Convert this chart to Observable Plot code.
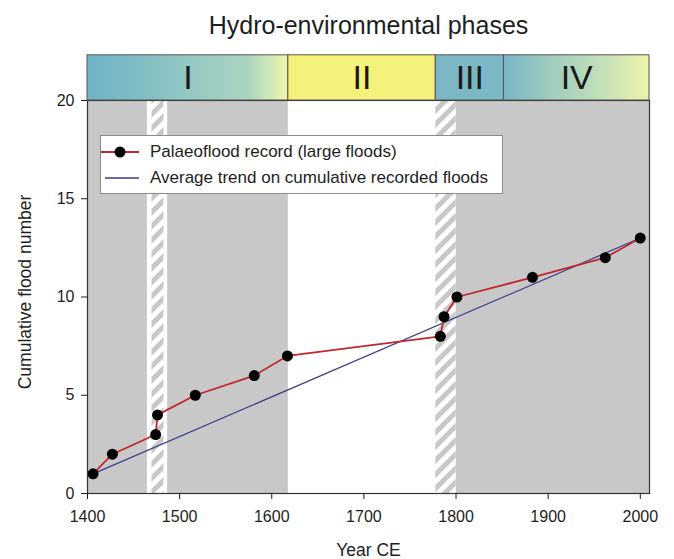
<!DOCTYPE html>
<html><head><meta charset="utf-8">
<script src="https://cdn.jsdelivr.net/npm/d3@7"></script>
<script src="https://cdn.jsdelivr.net/npm/@observablehq/plot@0.6"></script>
<style>
body{margin:0;background:#fff;font-family:"Liberation Sans",Arial,sans-serif;}
#wrap{position:relative;width:674px;height:559px;}
#legend{position:absolute;left:100px;top:135px;width:401px;height:57px;border:1px solid #8c8c8c;background:#fff;font-size:17px;color:#1e1e1e;}
#legend .row{position:absolute;left:49px;line-height:20px;white-space:nowrap;}
#legend svg{position:absolute;left:0;top:0;}
</style></head><body><div id="wrap"></div>
<script>
// ---- data ----
const floodYears  = [1406, 1427, 1474, 1476, 1517, 1581, 1617, 1783, 1787, 1801, 1883, 1962, 2000];
const floodCounts = [1, 2, 3, 4, 5, 6, 7, 8, 9, 10, 11, 12, 13];
const trendYears  = [1406, 2000];
const trendCounts = [1, 13];
const phaseNames  = ["I", "II", "III", "IV"];
const phaseStarts = [1400, 1618, 1778, 1852];
const phaseEnds   = [1618, 1778, 1852, 2010];
const phaseFills  = ["url(#gradI)", "#f5f27c", "#7bb7c4", "url(#gradIV)"];
const grayStarts  = [1400, 1800];
const grayEnds    = [1618, 2010];
const gapStarts   = [1465];
const gapEnds     = [1487];
const hatchStarts = [1470, 1778];
const hatchEnds   = [1483, 1800];
const xTicks = [1400, 1500, 1600, 1700, 1800, 1900, 2000];
const yTicks = [0, 5, 10, 15, 20];
const legendLabels = ["Palaeoflood record (large floods)", "Average trend on cumulative recorded floods"];
const titleText = "Hydro-environmental phases";
const xLabel = "Year CE";
const yLabel = "Cumulative flood number";

const redCol = "#c1272d", blueCol = "#3b3b8c", grayCol = "#c8c8c8";
const yTop = 20, barTop = 22.3;
const idx = a => a.map((_, i) => i);

const chart = Plot.plot({
  width: 674, height: 559,
  marginLeft: 87, marginRight: 25, marginTop: 100, marginBottom: 66,
  x: {domain: [1400, 2010]},
  y: {domain: [0, 20]},
  style: {fontFamily: "'Liberation Sans', Arial, sans-serif", fontSize: "16px", color: "#1e1e1e", background: "transparent"},
  marks: [
    Plot.rect(idx(grayStarts), {x1: i => grayStarts[i], x2: i => grayEnds[i], y1: 0, y2: yTop, fill: grayCol}),
    Plot.rect(idx(gapStarts), {x1: i => gapStarts[i], x2: i => gapEnds[i], y1: 0, y2: yTop, fill: "white"}),
    Plot.rect(idx(hatchStarts), {x1: i => hatchStarts[i], x2: i => hatchEnds[i], y1: 0, y2: yTop, fill: "url(#hatch)"}),
    Plot.line(idx(trendYears), {x: i => trendYears[i], y: i => trendCounts[i], stroke: blueCol, strokeWidth: 1.2}),
    Plot.line(idx(floodYears), {x: i => floodYears[i], y: i => floodCounts[i], stroke: redCol, strokeWidth: 1.8}),
    Plot.dot(idx(floodYears), {x: i => floodYears[i], y: i => floodCounts[i], r: 5.5, fill: "black"}),
    Plot.frame({stroke: "#333", strokeWidth: 1.2}),
    Plot.rect(idx(phaseNames), {x1: i => phaseStarts[i], x2: i => phaseEnds[i], y1: yTop, y2: barTop, fill: i => phaseFills[i], stroke: "#555", strokeWidth: 1}),
    Plot.text(idx(phaseNames), {x: i => (phaseStarts[i] + phaseEnds[i]) / 2, y: (yTop + barTop) / 2, text: i => phaseNames[i], fontSize: 34, fill: "#1a1a1a"}),
    Plot.axisX({ticks: xTicks, tickFormat: "d", tickSize: 6, tickPadding: 11, label: null, fontSize: 16}),
    Plot.axisY({ticks: yTicks, tickSize: 6, tickPadding: 7, label: null, fontSize: 16}),
    Plot.text([titleText], {frameAnchor: "top", lineAnchor: "middle", dy: -75, fontSize: 25, fill: "#1e1e1e"}),
    Plot.text([xLabel], {frameAnchor: "bottom", lineAnchor: "middle", dy: 57, fontSize: 17.5, fill: "#1e1e1e"}),
    Plot.text([yLabel], {frameAnchor: "left", textAnchor: "middle", lineAnchor: "middle", dx: -62, dy: -5, rotate: -90, fontSize: 17.5, fill: "#1e1e1e"})
  ]
});

// defs: gradients and hatch pattern
const svg = d3.select(chart);
const defs = svg.insert("defs", ":first-child");
function grad(id, stops) {
  const g = defs.append("linearGradient").attr("id", id).attr("x1", "0").attr("x2", "1").attr("y1", "0").attr("y2", "0");
  stops.forEach(([o, c]) => g.append("stop").attr("offset", o).attr("stop-color", c));
}
grad("gradI", [[0, "#6eb2c5"], [0.45, "#8fc5c3"], [0.8, "#aad4bf"], [0.92, "#d2e9b6"], [1, "#f3f5a8"]]);
grad("gradIV", [[0, "#7ab6c5"], [0.3, "#9ccbbf"], [0.7, "#c6e1b7"], [1, "#eff3aa"]]);
const pat = defs.append("pattern").attr("id", "hatch").attr("patternUnits", "userSpaceOnUse").attr("width", 14).attr("height", 14);
pat.append("rect").attr("width", 14).attr("height", 14).attr("fill", "white");
pat.append("path").attr("d", "M0,14 L14,0 M-4,4 L4,-4 M10,18 L18,10").attr("stroke", grayCol).attr("stroke-width", 5);

const wrap = document.getElementById("wrap");
wrap.appendChild(chart);

// legend
const leg = document.createElement("div");
leg.id = "legend";
leg.innerHTML = `<svg width="401" height="57">
  <line x1="0" x2="38" y1="16" y2="16" stroke="${redCol}" stroke-width="1.8"/>
  <circle cx="19" cy="16" r="5.5" fill="black"/>
  <line x1="4" x2="38" y1="42" y2="42" stroke="${blueCol}" stroke-width="1.5"/>
</svg>
<div class="row" style="top:6px">${legendLabels[0]}</div>
<div class="row" style="top:32px">${legendLabels[1]}</div>`;
wrap.appendChild(leg);
</script>
</body></html>
